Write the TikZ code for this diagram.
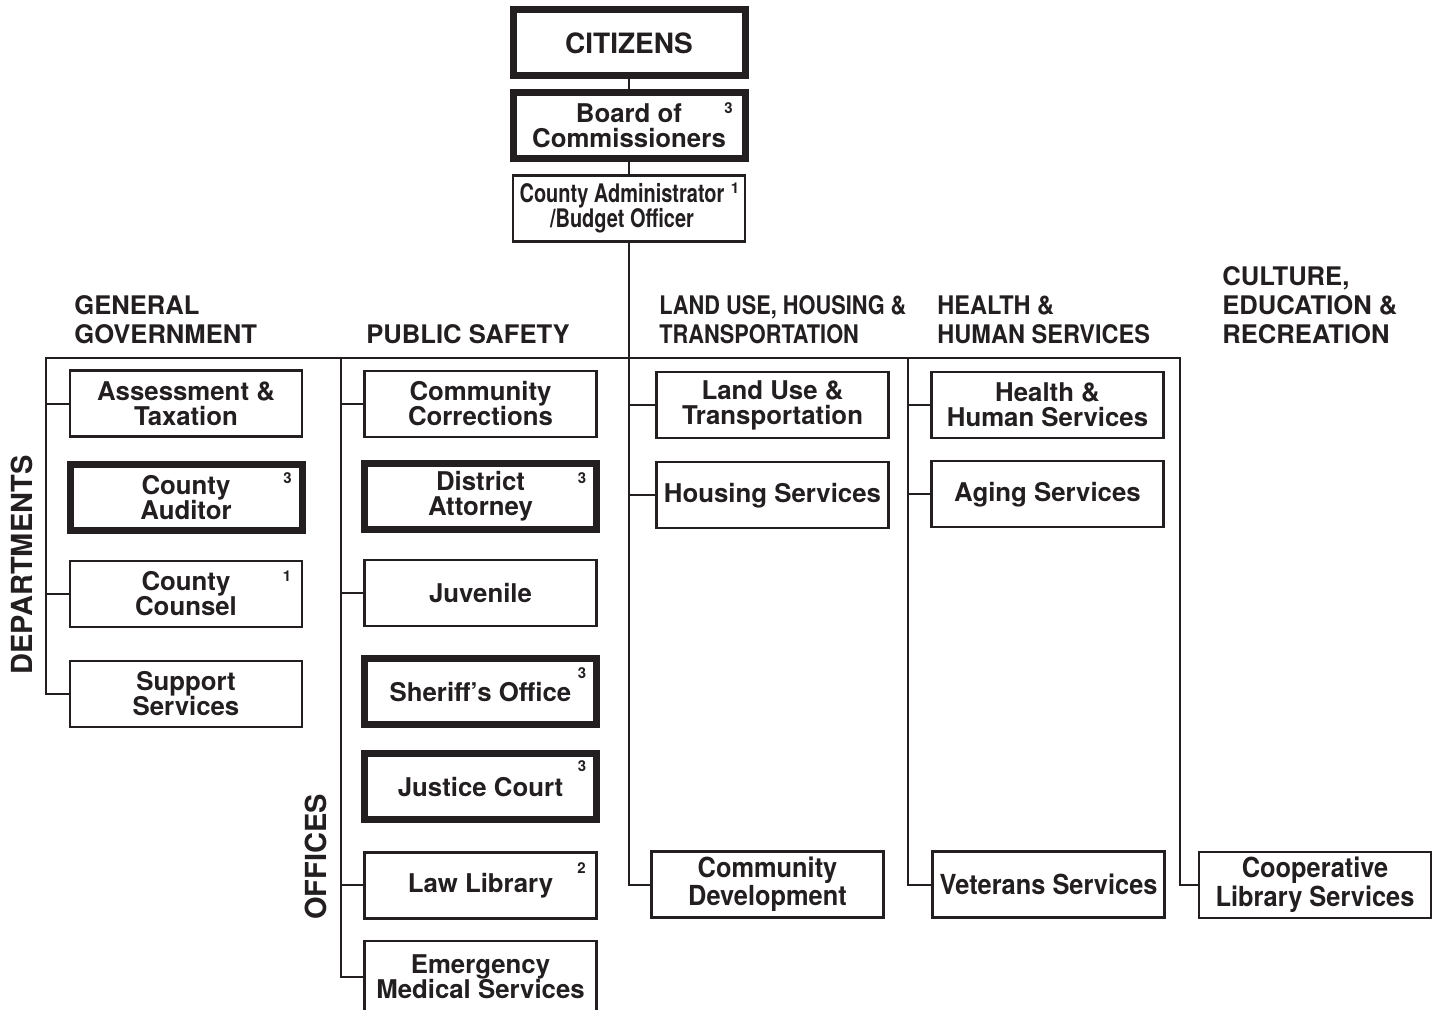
\documentclass[tikz,border=0pt]{standalone}
\usepackage{fontspec}
\setmainfont{TeX Gyre Heros}
\newfontfamily\narrowfont[FakeStretch=0.85]{TeX Gyre Heros}
\newfontfamily\condfont[FakeStretch=0.78]{TeX Gyre Heros}
\newfontfamily\semifont[FakeStretch=0.92]{TeX Gyre Heros}
\usepackage{xcolor}
\usetikzlibrary{positioning}
\definecolor{ink}{HTML}{231F20}

\begin{document}
\begin{tikzpicture}[
  x=0.5pt, y=-0.5pt,
  color=ink,
  font=\bfseries\fontsize{12.9}{12.5}\selectfont,
  unit/.style={
    draw,
    line width=1.1pt,
    minimum width=116pt,
    minimum height=33pt,
    align=center,
    inner sep=1pt
  },
  elected/.style={unit, line width=3.5pt},
  head/.style={
    anchor=south west,
    inner sep=0pt,
    text depth=0pt,
    align=left,
    font=\bfseries\fontsize{12.8}{14.5}\selectfont
  },
  side/.style={
    rotate=90,
    inner sep=0pt,
    text depth=0pt,
    font=\bfseries\fontsize{14.5}{16}\selectfont
  },
  fnote/.style={inner sep=0pt, font=\bfseries\fontsize{7.5}{8}\selectfont, xshift=-8pt, yshift=-8.5pt},
  link/.style={line width=1pt}
]
\useasboundingbox (0,0) rectangle (1439,1010);
\clip (0,0) rectangle (1439,1010);

% Top of the chart
\node[elected, font=\bfseries\fontsize{14}{15}\selectfont] (cit) at (629,43) {CITIZENS};
\node[elected, below=5pt of cit] (board) {Board of\\Commissioners};
\node[unit, below=6pt of board, font=\condfont\bfseries\fontsize{12.8}{12.5}\selectfont] (admin) {County Administrator\hspace*{7pt}\\/Budget Officer\hspace*{7pt}};

% Group headings
\node[head] (gghead) at (74,344) {GENERAL\\GOVERNMENT};
\node[head] (pshead) at (366,344) {PUBLIC SAFETY};
\node[head, font=\narrowfont\bfseries\fontsize{12.8}{14.5}\selectfont] (luhead) at (659,344) {LAND USE, HOUSING \&\\TRANSPORTATION};
\node[head, font=\semifont\bfseries\fontsize{12.8}{14.5}\selectfont] (hhhead) at (937,344) {HEALTH \&\\HUMAN SERVICES};
\node[head] (crhead) at (1222,344) {CULTURE,\\EDUCATION \&\\RECREATION};

% Side labels
\node[side] (dept) at (22,565) {DEPARTMENTS};
\node[side] (offi) at (316,857) {OFFICES};

% General government
\node[unit] (ass) at (186,403.5) {Assessment \&\\Taxation};
\node[elected, below=11.5pt of ass] (aud) {County\\Auditor};
\node[unit, below=13pt of aud] (cou) {County\\Counsel};
\node[unit, below=16pt of cou] (sup) {Support\\Services};

% Public safety
\node[unit] (cc) at (480.5,404) {Community\\Corrections};
\node[elected, below=11pt of cc] (da) {District\\Attorney};
\node[unit, below=13pt of da] (juv) {Juvenile};
\node[elected, below=14pt of juv] (sher) {Sheriff’s Office};
\node[elected, below=11pt of sher] (jc) {Justice Court};
\node[unit, below=14pt of jc] (ll) {Law Library};
\node[unit, below=12pt of ll, minimum height=36pt, yshift=2pt] (ems) {Emergency\\Medical Services};

% Land use, housing & transportation
\node[unit] (lu) at (772.5,405) {Land Use \&\\Transportation};
\node[unit, below=11pt of lu] (hs) {Housing Services};
\node[unit, font=\semifont\bfseries\fontsize{13.8}{12.5}\selectfont] (cd) at (767.5,884.5) {Community\\Development};

% Health & human services
\node[unit] (hhs) at (1047.5,405) {Health \&\\Human Services};
\node[unit, below=10.5pt of hhs] (age) {Aging Services};
\node[unit, font=\semifont\bfseries\fontsize{13.8}{12.5}\selectfont] (vet) at (1048.5,884.5) {Veterans Services};

% Culture, education & recreation
\node[unit, font=\semifont\bfseries\fontsize{13.8}{12.5}\selectfont] (coop) at (1315,885) {Cooperative\\Library Services};

% Footnote marks
\node[fnote, xshift=-2pt, yshift=-1pt] (boardnote) at (board.north east) {3};
\node[fnote, xshift=2.5pt, yshift=1.5pt] (adminnote) at (admin.north east) {1};
\node[fnote, xshift=-1pt, yshift=-0.5pt] (audnote) at (aud.north east) {3};
\node[fnote] (counote) at (cou.north east) {1};
\node[fnote, xshift=-1pt, yshift=-0.5pt] (danote) at (da.north east) {3};
\node[fnote, xshift=-1pt, yshift=-0.5pt] (shernote) at (sher.north east) {3};
\node[fnote, xshift=-1pt, yshift=0.5pt] (jcnote) at (jc.north east) {3};
\node[fnote] (llnote) at (ll.north east) {2};

% Lines
\coordinate (gg) at (46,358);
\coordinate (ps) at (341,358);
\coordinate (hh) at (907.5,358);
\coordinate (cr) at (1180,358);

\draw[link] (cit) -- (board);
\draw[link] (board) -- (admin);
\draw[link] (admin.south) |- (cd.west);
\draw[link] (sup.west) -| (gg) -- (cr) |- (coop.west);
\draw[link] (ps) |- (ems.west);
\draw[link] (hh) |- (vet.west);

\draw[link] (gg |- ass.west) -- (ass.west);
\draw[link] (gg |- cou.west) -- (cou.west);
\draw[link] (ps |- cc.west) -- (cc.west);
\draw[link] (ps |- juv.west) -- (juv.west);
\draw[link] (ps |- ll.west) -- (ll.west);
\draw[link] (admin.south |- lu.west) -- (lu.west);
\draw[link] (admin.south |- hs.west) -- (hs.west);
\draw[link] (hh |- hhs.west) -- (hhs.west);
\draw[link] (hh |- age.west) -- (age.west);

\end{tikzpicture}
\end{document}
